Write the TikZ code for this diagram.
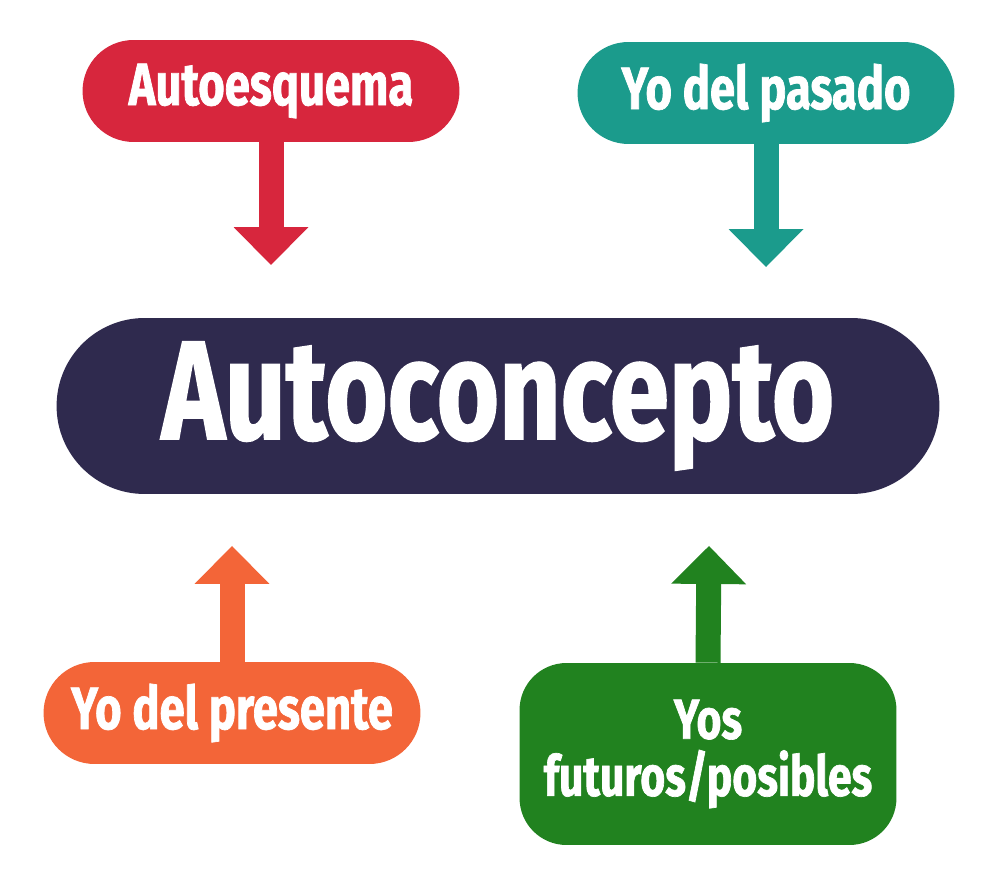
\documentclass[tikz,border=0pt]{standalone}
\usepackage{fontspec}
\setmainfont{Fira Sans}[FakeStretch=0.76, BoldFeatures={FakeBold=1.2}]
\usetikzlibrary{arrows.meta}
\definecolor{esquemared}{HTML}{D7263D}
\definecolor{pasadoteal}{HTML}{1B9B8C}
\definecolor{conceptonavy}{HTML}{2F2A4E}
\definecolor{presenteorange}{HTML}{F36538}
\definecolor{futurogreen}{HTML}{21821F}

\begin{document}
\begin{tikzpicture}[x=0.02cm, y=-0.02cm,
    box/.style={fill=#1, text=white, inner sep=0pt, minimum width=7.54cm, minimum height=2.04cm,
        rounded corners=1.02cm, font=\bfseries\fontsize{34}{40}\selectfont},
    flecha/.style={draw=#1, line width=0.5cm, -{Triangle[width=1.5cm, length=0.76cm, line width=0pt]}}]
    \useasboundingbox (0,0) rectangle (1000,884);

    \node[box=esquemared] (esquema) at (271,91) {Autoesquema};
    \node[box=pasadoteal] (pasado) at (766,93) {Yo del pasado};
    \node[box=conceptonavy, minimum width=17.66cm, minimum height=3.52cm, rounded corners=1.76cm,
        font=\bfseries\fontsize{80}{82}\selectfont] (concepto) at (498,406) {Autoconcepto};
    \node[box=presenteorange] (presente) at (232,713) {Yo del presente};
    \node[box=futurogreen, minimum height=3.64cm, rounded corners=0.94cm, align=center,
        font=\bfseries\fontsize{32}{32.5}\selectfont] (futuros) at (708,754) {Yos\\futuros/posibles};

    % puntas de las flechas
    \coordinate (t1) at (271,265);
    \coordinate (t2) at (766,267);
    \coordinate (t3) at (232,546);
    \coordinate (t4) at (709,546);

    \draw[flecha=esquemared] (esquema.south) -- (t1);
    \draw[flecha=pasadoteal] (pasado.south) -- (t2);
    \draw[flecha=presenteorange] (presente.north) -- (t3);
    \draw[flecha=futurogreen] (futuros.north) -- (t4);
\end{tikzpicture}
\end{document}
